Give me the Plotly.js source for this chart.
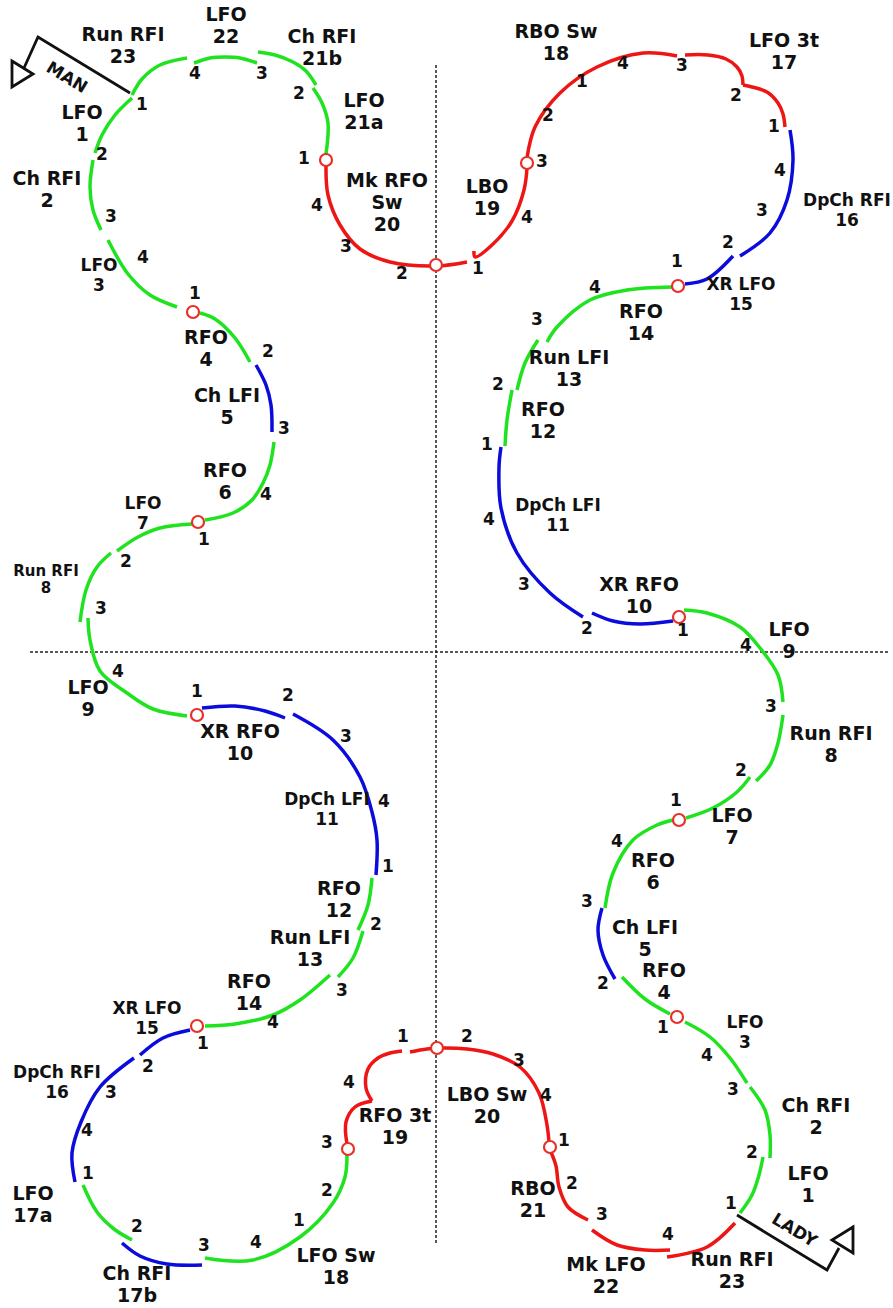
<!DOCTYPE html>
<html>
<head>
<meta charset="utf-8">
<script src="https://cdn.plot.ly/plotly-3.0.1.min.js"></script>
<style>html,body{margin:0;padding:0;background:#fff}#chart{width:893px;height:1308px}</style>
</head>
<body>
<div id="chart"></div>
<script>
// ---- edge colours by type: g = forward edge, b = chassé / cross edge, r = turn / backward edge
const EDGE_COLOR = {g: '#1fe31f', b: '#0b0bdc', r: '#ee1515'};

// ---- man's pattern (pieces of each step's tracing)
const manEdges = ['g','g','g','g','b','g','g','g','g','b','b','g','g','g','b','b','g','b','g','r','r','r','g','g','g','g'];
const manPieces = [
  [[132,98],[115,115],[102,135],[95,153]],                 // 1 LFO
  [[93,160],[90,187],[93,210],[101,230]],                  // 2 Ch RFI
  [[108,240],[128,274],[150,295],[177,307]],               // 3 LFO
  [[200,313],[215,319],[235,338],[250,362]],               // 4 RFO
  [[256,365],[266,385],[271,405],[272,432]],               // 5 Ch LFI
  [[274,442],[270,465],[263,483],[252,500],[233,513],[205,520]], // 6 RFO
  [[192,524],[160,528],[138,537],[117,551]],               // 7 LFO
  [[111,553],[97,567],[86,590],[80,622]],                  // 8 Run RFI
  [[88,618],[90,640],[100,671],[127,693],[153,709],[187,716]], // 9 LFO
  [[202,708],[235,706],[265,711],[285,718]],               // 10 XR RFO
  [[293,714],[333,740],[360,777],[372,812],[377,840],[376,875]], // 11 DpCh LFI
  [[372,878],[368,905],[358,930]],                         // 12 RFO
  [[363,931],[353,958],[338,977]],                         // 13 Run LFI
  [[330,975],[300,1000],[273,1015],[235,1024],[205,1026]], // 14 RFO
  [[190,1030],[163,1038],[140,1055]],                      // 15 XR LFO
  [[134,1058],[100,1087],[81,1122],[72,1153],[75,1182]],   // 16 DpCh RFI
  [[83,1185],[97,1212],[114,1229],[132,1240]],             // 17a LFO
  [[122,1243],[140,1256],[167,1264],[202,1265]],           // 17b Ch RFI
  [[205,1258],[253,1260],[300,1237],[333,1203],[345,1177],[347,1155]], // 18 LFO Sw
  [[347,1144],[346,1122],[355,1107],[372,1101]],           // 19 RFO 3t (before turn)
  [[372,1101],[366,1088],[368,1069],[378,1058],[390,1053],[402,1051]], // 19 RFO 3t (after turn)
  [[326,166],[328,195],[340,225],[360,249],[390,262],[436,266],[467,262]], // 20 Mk RFO Sw
  [[326,154],[328,123],[322,103],[313,88]],                // 21a LFO
  [[316,85],[306,71],[293,62],[275,55],[258,52]],          // 21b Ch RFI
  [[257,63],[240,58],[225,57],[210,58],[194,63]],          // 22 LFO
  [[187,58],[160,65],[142,79],[132,95]]                    // 23 Run RFI
];

// ---- lady's pattern
const ladyEdges = ['g','g','g','g','b','g','g','g','g','b','b','g','g','g','b','b','r','r','r','r','r','r','r','r','g'];
const ladyPieces = [
  [[740,1213],[752,1195],[759,1175],[763,1157]],           // 1 LFO
  [[770,1158],[770,1135],[765,1110],[750,1087]],           // 2 Ch RFI
  [[747,1083],[730,1058],[710,1037],[685,1022]],           // 3 LFO
  [[670,1014],[645,999],[622,977]],                        // 4 RFO
  [[615,979],[603,955],[598,930],[602,908]],               // 5 Ch LFI
  [[605,908],[613,873],[633,840],[657,825],[673,820]],     // 6 RFO
  [[686,818],[713,808],[737,792],[750,777]],               // 7 LFO
  [[756,781],[770,765],[778,743],[783,715]],               // 8 Run RFI
  [[783,702],[778,675],[760,648],[740,627],[707,613],[684,610]], // 9 LFO
  [[673,621],[640,624],[613,621],[592,613]],               // 10 XR RFO
  [[583,617],[550,593],[517,553],[501,508],[499,467],[501,447]], // 11 DpCh LFI
  [[505,446],[507,420],[512,390]],                         // 12 RFO
  [[517,390],[525,363],[538,340]],                         // 13 Run LFI
  [[547,342],[557,327],[590,300],[627,290],[672,287]],     // 14 RFO
  [[685,284],[707,279],[733,256]],                         // 15 XR LFO
  [[740,256],[770,233],[787,200],[793,160],[790,130]],     // 16 DpCh RFI
  [[785,127],[783,114],[778,103],[767,92],[752,87],[743,85]], // 17 LFO 3t (before turn)
  [[743,85],[742,76],[737,67],[726,59],[708,55],[685,55]], // 17 LFO 3t (after turn)
  [[677,56],[643,53],[597,67],[560,93],[535,127],[527,158]], // 18 RBO Sw
  [[527,168],[524,190],[512,221],[492,245],[475,257],[474,251]], // 19 LBO
  [[410,1052],[427,1049],[440,1048],[467,1049],[493,1054],[520,1067],[539,1093],[547,1125],[549,1143]], // 20 LBO Sw
  [[551,1152],[556,1166],[559,1187],[568,1207],[588,1220]], // 21 RBO
  [[592,1230],[617,1245],[645,1250],[670,1250]],           // 22 Mk LFO
  [[667,1257],[707,1247],[735,1223]]                       // 23 Run RFI
];

// ---- change-of-foot markers (open circles)
const turnX = [326,436,193,198,197,197,348,437,550,677,679,679,678,527];
const turnY = [160,265,312,522,715,1026,1149,1048,1147,1017,820,617,286,163];

// ---- step labels
const labelText = ['Run RFI<br>23','LFO<br>22','Ch RFI<br>21b','LFO<br>21a','Mk RFO<br>Sw<br>20','LFO<br>1','Ch RFI<br>2','LFO<br>3','RFO<br>4','Ch LFI<br>5','RFO<br>6','LFO<br>7','Run RFI<br>8','LFO<br>9','XR RFO<br>10','DpCh LFI<br>11','RFO<br>12','Run LFI<br>13','RFO<br>14','XR LFO<br>15','DpCh RFI<br>16','LFO<br>17a','Ch RFI<br>17b','LFO Sw<br>18','RFO 3t<br>19',
  'RBO Sw<br>18','LFO 3t<br>17','LBO<br>19','DpCh RFI<br>16','XR LFO<br>15','RFO<br>14','Run LFI<br>13','RFO<br>12','DpCh LFI<br>11','XR RFO<br>10','LFO<br>9','Run RFI<br>8','LFO<br>7','RFO<br>6','Ch LFI<br>5','RFO<br>4','LFO<br>3','Ch RFI<br>2','LFO<br>1','LBO Sw<br>20','RBO<br>21','Mk LFO<br>22','Run RFI<br>23'];
const labelX = [123,226,322,364,387,82,47,99,206,227,225,143,46,88,240,327,339,310,249,147,57,33,137,336,395,
  556,784,487,847,741,641,569,543,558,639,789,831,732,653,645,664,745,816,808,487,533,606,732];
const labelY = [47,27,49,113,204,125,191,277,350,408,483,515,581,700,744,811,901,950,994,1020,1084,1206,1286,1268,1128,
  44,53,199,212,296,324,370,422,517,597,642,746,828,873,940,983,1034,1118,1186,1107,1201,1277,1272];
const labelSmall = [0,0,0,0,0,0,0,1,0,0,0,1,2,0,0,1,0,0,0,1,1,0,0,0,0,
  0,0,0,1,1,0,0,0,1,0,0,0,0,0,0,0,1,0,0,0,0,0,0];

// ---- beat counts
const beatText = ['4','3','2','1','4','3','2','1','1','2','3','4','1','2','3','4','1','2','3','4','1','2','3','4','1','2','3','4','1','2','3','4','1','2','3','4','1','2','3','4','1','2','3','4','1','2','3','4','1','2','3','4','1','2','3','4','1','2','3','4','1','2','3','4','1','2','3','4','1','2','3','4','1','2','3','4','1','2','3','4','1','2','3'];
const beatX = [195,262,299,304,317,346,402,478,142,102,111,143,195,268,284,266,204,126,101,118,197,288,346,384,388,376,342,273,203,148,111,87,88,137,204,256,299,327,327,349,403,467,519,546,564,572,602,668,731,752,733,707,663,603,587,617,676,741,771,746,683,587,524,489,487,498,537,595,677,728,762,780,774,736,682,623,582,548,542,527];
const beatY = [75,75,95,160,207,248,275,270,106,156,218,259,295,353,430,496,541,563,610,673,693,697,738,803,868,926,992,1024,1045,1068,1094,1132,1175,1228,1247,1244,1222,1192,1144,1084,1038,1038,1062,1097,1142,1185,1216,1236,1205,1154,1091,1057,1029,985,903,843,802,772,708,647,632,630,586,521,446,386,321,289,263,244,212,172,128,97,67,65,83,117,163,219];

const FONT = 'DejaVu Sans, Verdana, sans-serif';
const traces = [];
function addPieces(pieces, edges) {
  pieces.forEach((p, i) => {
    traces.push({
      type: 'scatter', mode: 'lines', hoverinfo: 'skip',
      x: p.map(q => q[0]), y: p.map(q => q[1]),
      line: {color: EDGE_COLOR[edges[i]], width: 3.5, shape: 'spline', smoothing: 1}
    });
  });
}
addPieces(manPieces, manEdges);
addPieces(ladyPieces, ladyEdges);

traces.push({
  type: 'scatter', mode: 'markers', hoverinfo: 'skip', x: turnX, y: turnY,
  marker: {symbol: 'circle', size: 12, color: '#ffffff', line: {color: '#e8302a', width: 2.2}}
});

// label lines: each line placed separately so line spacing matches
const sizes = [19, 17, 15];
const spacing = [22, 20, 17];
[0,1,2].forEach(s => {
  const xs = [], ys = [], ts = [];
  labelText.forEach((t, i) => {
    if (labelSmall[i] !== s) return;
    const lines = t.split('<br>');
    lines.forEach((ln, k) => {
      xs.push(labelX[i]);
      ys.push(labelY[i] + (k - (lines.length - 1) / 2) * spacing[s]);
      ts.push(ln);
    });
  });
  traces.push({
    type: 'scatter', mode: 'text', hoverinfo: 'skip',
    x: xs, y: ys, text: ts, textposition: 'middle center',
    textfont: {family: FONT, size: sizes[s], color: '#111', weight: 'bold'}
  });
});

traces.push({
  type: 'scatter', mode: 'text', hoverinfo: 'skip',
  x: beatX, y: beatY, text: beatText, textposition: 'middle center',
  textfont: {family: FONT, size: 17, color: '#111', weight: 'bold'}
});

const layout = {
  width: 893, height: 1308,
  margin: {l: 0, r: 0, t: 0, b: 0},
  paper_bgcolor: '#ffffff', plot_bgcolor: '#ffffff',
  showlegend: false,
  xaxis: {range: [0, 893], visible: false, fixedrange: true},
  yaxis: {range: [1308, 0], visible: false, fixedrange: true},
  shapes: [
    {type: 'line', x0: 436, x1: 436, y0: 65, y1: 1245, line: {color: '#222', width: 1.5, dash: '3px,2px'}, layer: 'below'},
    {type: 'line', x0: 30, x1: 890, y0: 652, y1: 652, line: {color: '#222', width: 1.5, dash: '3px,2px'}, layer: 'below'},
    {type: 'path', path: 'M130,93 L38,37 L24,68', line: {color: '#111', width: 2.8}},
    {type: 'path', path: 'M12,61 L33,74 L12,87 Z', line: {color: '#111', width: 2.8}, fillcolor: 'rgba(0,0,0,0)'},
    {type: 'path', path: 'M737,1215 L827,1270 L839,1248', line: {color: '#111', width: 2.8}},
    {type: 'path', path: 'M853,1227 L832,1240 L853,1253 Z', line: {color: '#111', width: 2.8}, fillcolor: 'rgba(0,0,0,0)'}
  ],
  annotations: [
    {x: 67, y: 77, xref: 'x', yref: 'y', text: 'MAN', showarrow: false, textangle: 31,
     font: {family: FONT, size: 17, color: '#111', weight: 'bold'}},
    {x: 795, y: 1230, xref: 'x', yref: 'y', text: 'LADY', showarrow: false, textangle: 31,
     font: {family: FONT, size: 17, color: '#111', weight: 'bold'}}
  ]
};

Plotly.newPlot('chart', traces, layout, {staticPlot: true, displayModeBar: false});
</script>
</body>
</html>
